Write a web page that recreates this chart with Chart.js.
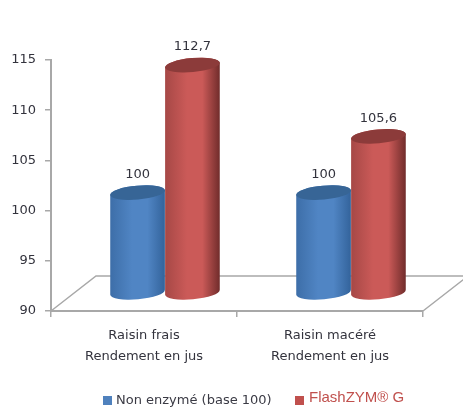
<!DOCTYPE html>
<html>
<head>
<meta charset="utf-8">
<script src="https://cdn.jsdelivr.net/npm/chart.js@4"></script>
<style>
    html, body { margin: 0; padding: 0; background: #fff; overflow: hidden; }
    #wrap { position: relative; width: 463px; height: 408px; }
    #chart { filter: blur(0.35px); }
    .legend { position: absolute; white-space: nowrap; }
    .legend i { position: absolute; left: 0; width: 9px; height: 9px; }
    #leg1 { left: 103px; top: 392px; font: 13px "DejaVu Sans", sans-serif; color: #3a3a44; padding-left: 13px; }
    #leg1 i { top: 4px; background: #4f81bd; }
    #leg2 { left: 295px; top: 388px; font: 15px "Liberation Sans", sans-serif; color: #c0504d; padding-left: 14px; }
    #leg2 i { top: 8px; background: #c0504d; }
</style>
</head>
<body>
<div id="wrap">
    <canvas id="chart" width="463" height="408"></canvas>
    <div class="legend" id="leg1"><i></i><span></span></div>
    <div class="legend" id="leg2"><i></i><span></span></div>
</div>
<script>
const categories = [['Raisin frais', 'Rendement en jus'], ['Raisin macéré', 'Rendement en jus']];
const nonEnzyme = [100, 100];
const flashZym = [112.7, 105.6];
const seriesNames = ['Non enzymé (base 100)', 'FlashZYM® G'];

const axisColor = '#a8a8a8';
const textColor = '#33333d';

// 3D look: cylinders stand in the middle of the floor, floor goes back by floorDepth
const floorDepth = {x: 45, y: -35};
const barShift = {x: 21, y: -18};

const cylinderStyles = [
    {left: '#3d6ea8', mid: '#5085c4', right: '#33639b', cap: '#376596'},
    {left: '#a64846', mid: '#cb5a58', right: '#702c2b', cap: '#8c3b3a'}
];

function drawCylinder(ctx, el, style) {
    const cx = el.x + barShift.x;
    const rx = el.width / 2;
    const ry = 7;
    const rot = -0.09;
    const top = el.y + barShift.y;
    const bottom = el.base + barShift.y;
    const dx = rx * Math.cos(rot);
    const dy = rx * Math.sin(rot);

    const grad = ctx.createLinearGradient(cx - rx, 0, cx + rx, 0);
    grad.addColorStop(0, style.left);
    grad.addColorStop(0.4, style.mid);
    grad.addColorStop(0.68, style.mid);
    grad.addColorStop(1, style.right);

    ctx.fillStyle = grad;
    ctx.beginPath();
    ctx.ellipse(cx, bottom, rx, ry, rot, Math.PI, 0, true);
    ctx.lineTo(cx + dx, top + dy);
    ctx.ellipse(cx, top, rx, ry, rot, 0, Math.PI, true);
    ctx.closePath();
    ctx.fill();

    ctx.fillStyle = style.cap;
    ctx.beginPath();
    ctx.ellipse(cx, top, rx, ry, rot, 0, Math.PI * 2);
    ctx.fill();
}

const cylinders = {
    id: 'cylinders',
    // floor behind the bars
    beforeDatasetsDraw(chart) {
        const {ctx, chartArea: a} = chart;
        ctx.save();
        ctx.strokeStyle = axisColor;
        ctx.lineWidth = 1.5;
        ctx.beginPath();
        ctx.moveTo(a.left, a.bottom);
        ctx.lineTo(a.left + floorDepth.x, a.bottom + floorDepth.y);
        ctx.lineTo(chart.width, a.bottom + floorDepth.y);
        ctx.moveTo(a.right, a.bottom);
        ctx.lineTo(a.right + floorDepth.x, a.bottom + floorDepth.y);
        ctx.stroke();
        ctx.restore();
    },
    // the flat bars are replaced by the cylinders below
    beforeDatasetDraw() {
        return false;
    },
    afterDatasetsDraw(chart) {
        const {ctx} = chart;
        ctx.save();
        chart.data.datasets.forEach((ds, i) => {
            chart.getDatasetMeta(i).data.forEach(el => drawCylinder(ctx, el, cylinderStyles[i]));
        });
        ctx.font = '13px "DejaVu Sans", sans-serif';
        ctx.fillStyle = textColor;
        ctx.textAlign = 'center';
        ctx.textBaseline = 'middle';
        chart.data.datasets.forEach((ds, i) => {
            chart.getDatasetMeta(i).data.forEach((el, j) => {
                const txt = String(ds.data[j]).replace('.', ',');
                ctx.fillText(txt, el.x + barShift.x, el.y + barShift.y - 18);
            });
        });
        ctx.restore();
    }
};

document.querySelector('#leg1 span').textContent = seriesNames[0];
document.querySelector('#leg2 span').textContent = seriesNames[1];

new Chart(document.getElementById('chart'), {
    type: 'bar',
    data: {
        labels: categories,
        datasets: [
            {label: seriesNames[0], data: nonEnzyme, backgroundColor: '#4f81bd', base: 90},
            {label: seriesNames[1], data: flashZym, backgroundColor: '#c0504d', base: 90}
        ]
    },
    options: {
        responsive: false,
        animation: false,
        barPercentage: 1,
        categoryPercentage: 0.59,
        layout: {padding: {top: 60, right: 40, left: 0, bottom: 0}},
        plugins: {legend: {display: false}, tooltip: {enabled: false}},
        scales: {
            x: {
                afterFit: s => { s.height = 97; },
                border: {color: axisColor, width: 2},
                grid: {drawOnChartArea: false, color: axisColor, tickLength: 6, lineWidth: 1.5},
                ticks: {color: textColor, font: {family: '"DejaVu Sans"', size: 13, lineHeight: 1.55}, padding: 9, maxRotation: 0}
            },
            y: {
                min: 90,
                max: 115,
                afterFit: s => { s.width = 51; },
                border: {color: axisColor, width: 2},
                grid: {drawOnChartArea: false, color: axisColor, tickLength: 6, lineWidth: 1.5},
                ticks: {stepSize: 5, color: textColor, font: {family: '"DejaVu Sans"', size: 13}, padding: 9}
            }
        }
    },
    plugins: [cylinders]
});
</script>
</body>
</html>
